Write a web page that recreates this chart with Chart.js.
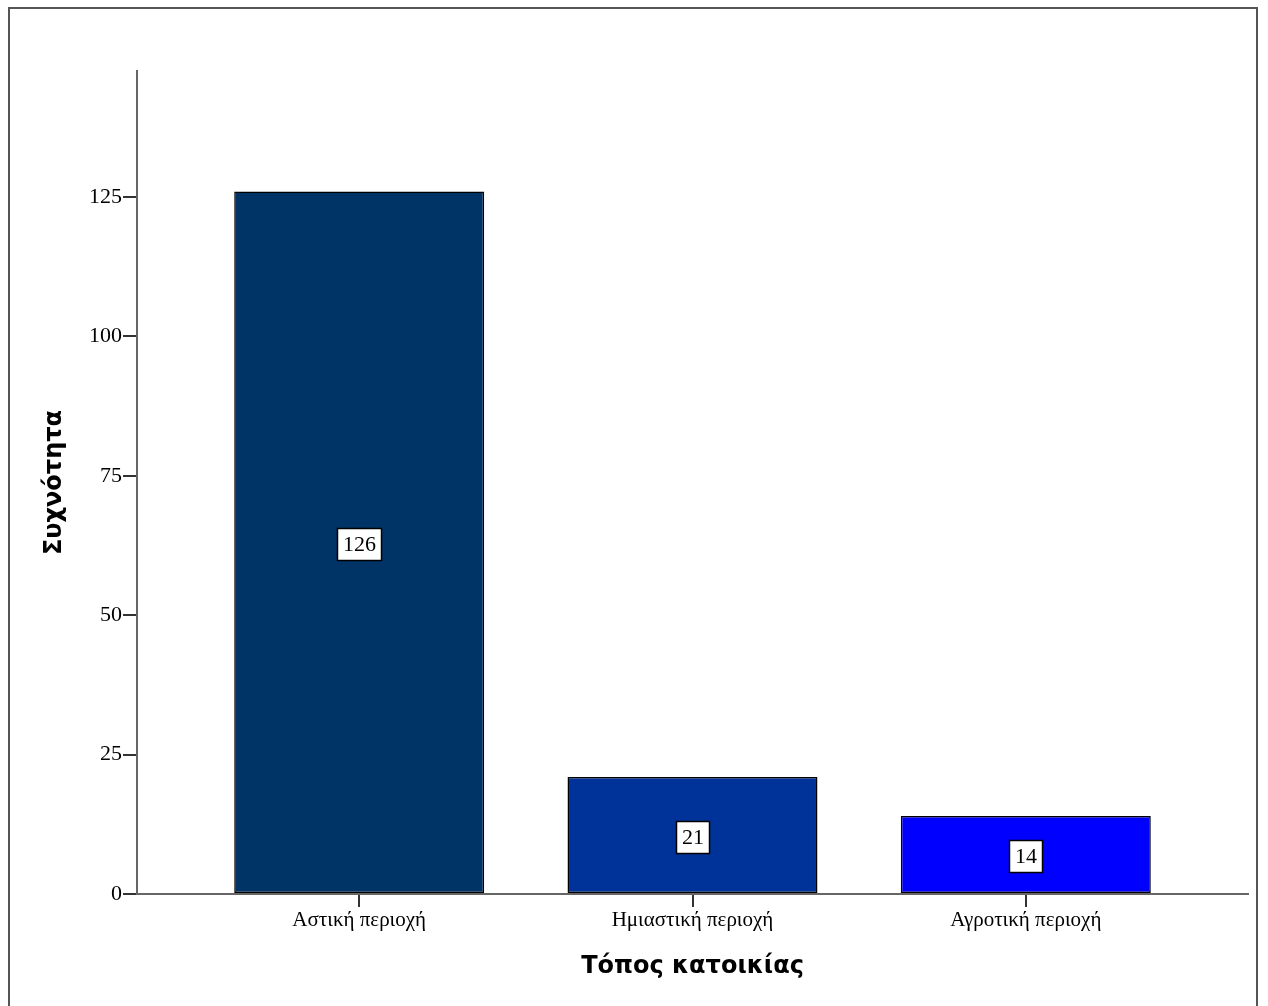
<!DOCTYPE html>
<html>
<head>
<meta charset="utf-8">
<script src="https://cdn.jsdelivr.net/npm/chart.js@4.4.1/dist/chart.umd.min.js"></script>
<style>
  html, body { margin: 0; padding: 0; background: #fff; }
  #wrap { position: relative; width: 1268px; height: 1006px; overflow: hidden; }
  #frame { position: absolute; left: 8px; top: 7px; width: 1250px; height: 1020px;
           border: 2px solid #555; box-sizing: border-box; }
  #c { position: absolute; left: 0; top: 0; }
</style>
</head>
<body>
<div id="wrap">
  <div id="frame"></div>
  <canvas id="c" width="1268" height="1006"></canvas>
</div>
<script>
// Τόπος κατοικίας - συχνότητες
const categories = ["Αστική περιοχή", "Ημιαστική περιοχή", "Αγροτική περιοχή"];
const counts = [126, 21, 14];
const barColors = ["#003366", "#003399", "#0000ff"];
const yTicks = [0, 25, 50, 75, 100, 125];

const AXIS = "#666666";
const serif = "'Liberation Serif', 'DejaVu Serif', serif";
const sans = "'DejaVu Sans', Verdana, sans-serif";

// white boxes with the count inside each bar
const valueBoxes = {
    id: "valueBoxes",
    afterDatasetsDraw(chart) {
        const ctx = chart.ctx;
        const meta = chart.getDatasetMeta(0);
        ctx.save();
        ctx.font = "22px " + serif;
        ctx.textAlign = "center";
        ctx.textBaseline = "middle";
        meta.data.forEach(function (bar, i) {
            const txt = String(counts[i]);
            const w = Math.round(ctx.measureText(txt).width + 11);
            const h = 32;
            const left = Math.round(bar.x - w / 2) + 0.5;
            const top = Math.round((bar.y + bar.base) / 2 + 2 - h / 2) + 0.5;
            ctx.fillStyle = "#ffffff";
            ctx.fillRect(left, top, w, h);
            ctx.strokeStyle = "#000000";
            ctx.lineWidth = 1.5;
            ctx.strokeRect(left, top, w, h);
            ctx.fillStyle = "#000000";
            ctx.fillText(txt, left + w / 2, top + h / 2 + 1);
        });
        ctx.restore();
    }
};

const data = {
    datasets: [{
        label: "Συχνότητα",
        data: counts.map(function (v, i) { return { x: i, y: v }; }),
        backgroundColor: barColors,
        borderColor: "#000000",
        borderWidth: 1.5,
        borderSkipped: false,
        barPercentage: 0.75,
        categoryPercentage: 1.0
    }]
};

const config = {
    type: "bar",
    data: data,
    options: {
        responsive: false,
        animation: false,
        layout: { padding: { left: 0, right: 20, top: 71, bottom: 0 } },
        plugins: {
            legend: { display: false },
            tooltip: { enabled: false }
        },
        scales: {
            x: {
                type: "linear",
                offset: false,
                min: -2 / 3,
                max: 8 / 3,
                afterBuildTicks: function (scale) {
                    scale.ticks = categories.map(function (c, i) { return { value: i }; });
                },
                afterFit: function (scale) { scale.height = 112; },
                ticks: {
                    autoSkip: false,
                    maxRotation: 0,
                    padding: 1,
                    color: "#000",
                    font: { family: serif, size: 21 },
                    callback: function (v) { return categories[v]; }
                },
                grid: { offset: false, drawOnChartArea: false, color: "#333", tickLength: 13, lineWidth: 2 },
                border: { color: AXIS, width: 2 },
                title: {
                    display: true,
                    text: "Τόπος κατοικίας",
                    color: "#000",
                    font: { family: sans, size: 24, weight: "bold" },
                    padding: { top: 0, bottom: 25 }
                }
            },
            y: {
                min: 0,
                max: 147.6,
                afterBuildTicks: function (scale) {
                    scale.ticks = yTicks.map(function (v) { return { value: v }; });
                },
                afterFit: function (scale) { scale.width = 137; },
                ticks: {
                    padding: 1,
                    color: "#000",
                    font: { family: serif, size: 22 }
                },
                grid: { drawOnChartArea: false, color: "#333", tickLength: 14, lineWidth: 2 },
                border: { color: AXIS, width: 2 },
                title: {
                    display: true,
                    text: "Συχνότητα",
                    color: "#000",
                    font: { family: sans, size: 24, weight: "bold" },
                    padding: { top: 40, bottom: 0 }
                }
            }
        }
    },
    plugins: [valueBoxes]
};

var myChart = new Chart(document.getElementById("c"), config);
</script>
</body>
</html>
